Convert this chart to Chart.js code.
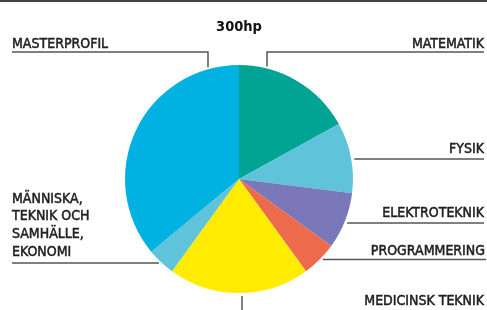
<!DOCTYPE html>
<html>
<head>
<meta charset="utf-8">
<title>300hp</title>
<style>
  html, body { margin: 0; padding: 0; background: #fff; }
  #chart-container { width: 487px; height: 310px; position: relative; }
</style>
</head>
<body>
<div id="chart-container">
  <canvas id="mycanvas"></canvas>
</div>
<script src="https://cdn.jsdelivr.net/npm/chart.js@4.4.1/dist/chart.umd.min.js"></script>
<script>
// data (hp of 300)
var categories = ['MATEMATIK', 'FYSIK', 'ELEKTROTEKNIK', 'PROGRAMMERING', 'MEDICINSK TEKNIK', 'MÄNNISKA, TEKNIK OCH SAMHÄLLE, EKONOMI', 'MASTERPROFIL'];
var values = [51, 30, 24, 15, 60, 12, 108];
var colors = ['#00a394', '#5fc3d9', '#7a78b8', '#ee6a4c', '#ffec00', '#5fc3d9', '#00b1e1'];
var title = '300hp';

// label layout: text lines, anchor, baseline, leader line
var labelLayout = [
  { lines: ['MATEMATIK'], align: 'right', x: 484, y: 48, lineY: 52, lineX: 484, leader: 'up', vx: 267 },
  { lines: ['FYSIK'], align: 'right', x: 484, y: 153, lineY: 159, lineX: 484, leader: 'right' },
  { lines: ['ELEKTROTEKNIK'], align: 'right', x: 484, y: 217, lineY: 223, lineX: 484, leader: 'right' },
  { lines: ['PROGRAMMERING'], align: 'right', x: 485, y: 255, lineY: 259.5, lineX: 486, leader: 'right' },
  { lines: ['MEDICINSK TEKNIK'], align: 'right', x: 484, y: 305, leader: 'down', vx: 242 },
  { lines: ['MÄNNISKA,', 'TEKNIK OCH', 'SAMHÄLLE,', 'EKONOMI'], align: 'left', x: 12, y: 202.5, lineY: 263, lineX: 12, leader: 'left' },
  { lines: ['MASTERPROFIL'], align: 'left', x: 12, y: 48, lineY: 52, lineX: 12, leader: 'up', vx: 208 }
];

var labelPlugin = {
  id: 'labels',
  afterDraw: function(chart) {
    var ctx = chart.ctx;
    var arc = chart.getDatasetMeta(0).data[0];
    var cx = arc.x, cy = arc.y, r = arc.outerRadius;
    var gap = 3;
    ctx.save();
    // top border
    ctx.strokeStyle = '#444';
    ctx.lineWidth = 2;
    ctx.beginPath();
    ctx.moveTo(0, 1);
    ctx.lineTo(chart.width, 1);
    ctx.stroke();

    // title
    ctx.fillStyle = '#111';
    ctx.font = 'bold 14.5px "DejaVu Sans Condensed", "DejaVu Sans"';
    ctx.textAlign = 'center';
    ctx.textBaseline = 'alphabetic';
    ctx.fillText(title, cx, 31);

    ctx.font = '14px "DejaVu Sans Condensed", "DejaVu Sans"';
    ctx.lineWidth = 0.5;
    labelLayout.forEach(function(l) {
      ctx.textAlign = l.align;
      ctx.fillStyle = '#222';
      ctx.strokeStyle = '#222';
      l.lines.forEach(function(t, i) {
        ctx.fillText(t, l.x, l.y + i * 17.8);
        ctx.strokeText(t, l.x, l.y + i * 17.8);
      });
    });

    ctx.strokeStyle = '#555';
    ctx.lineWidth = 1.5;
    labelLayout.forEach(function(l) {
      ctx.beginPath();
      var d;
      if (l.leader === 'up') {
        d = Math.sqrt(r * r - (l.vx - cx) * (l.vx - cx));
        ctx.moveTo(l.lineX, l.lineY);
        ctx.lineTo(l.vx, l.lineY);
        ctx.lineTo(l.vx, cy - d - gap + 1);
      } else if (l.leader === 'right') {
        d = Math.sqrt(r * r - (l.lineY - cy) * (l.lineY - cy));
        ctx.moveTo(l.lineX, l.lineY);
        ctx.lineTo(cx + d + gap, l.lineY);
      } else if (l.leader === 'left') {
        d = Math.sqrt(r * r - (l.lineY - cy) * (l.lineY - cy));
        ctx.moveTo(l.lineX, l.lineY);
        ctx.lineTo(cx - d - gap, l.lineY);
      } else if (l.leader === 'down') {
        d = Math.sqrt(r * r - (l.vx - cx) * (l.vx - cx));
        ctx.moveTo(l.vx, cy + d + gap);
        ctx.lineTo(l.vx, chart.height);
      }
      ctx.stroke();
    });
    ctx.restore();
  }
};

var ctx = document.getElementById('mycanvas');
var pieChart = new Chart(ctx, {
  type: 'pie',
  data: {
    labels: categories,
    datasets: [{
      data: values,
      backgroundColor: colors,
      borderWidth: 0
    }]
  },
  options: {
    responsive: true,
    maintainAspectRatio: false,
    animation: false,
    layout: { padding: { top: 65, bottom: 17, left: 0, right: 9 } },
    plugins: {
      legend: { display: false },
      tooltip: { enabled: false }
    }
  },
  plugins: [labelPlugin]
});
</script>
</body>
</html>
